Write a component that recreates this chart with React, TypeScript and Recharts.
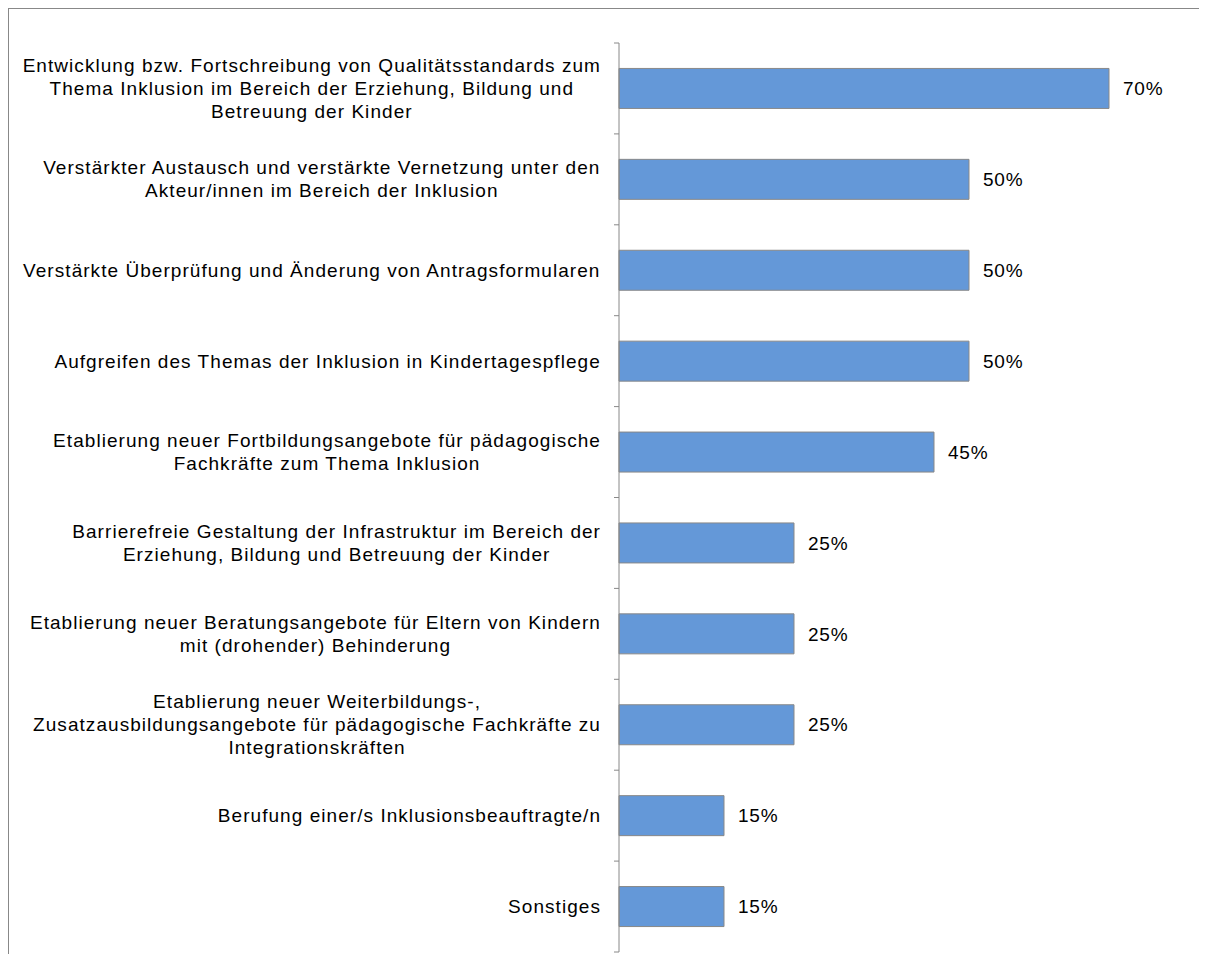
import React from 'react';
import { BarChart, Bar, XAxis, YAxis, LabelList } from 'recharts';

const categories = [
  'Entwicklung bzw. Fortschreibung von Qualitätsstandards zum\nThema Inklusion im Bereich der Erziehung, Bildung und\nBetreuung der Kinder',
  'Verstärkter Austausch und verstärkte Vernetzung unter den\nAkteur/innen im Bereich der Inklusion',
  'Verstärkte Überprüfung und Änderung von Antragsformularen',
  'Aufgreifen des Themas der Inklusion in Kindertagespflege',
  'Etablierung neuer Fortbildungsangebote für pädagogische\nFachkräfte zum Thema Inklusion',
  'Barrierefreie Gestaltung der Infrastruktur im Bereich der\nErziehung, Bildung und Betreuung der Kinder',
  'Etablierung neuer Beratungsangebote für Eltern von Kindern\nmit (drohender) Behinderung',
  'Etablierung neuer Weiterbildungs-,\nZusatzausbildungsangebote für pädagogische Fachkräfte zu\nIntegrationskräften',
  'Berufung einer/s Inklusionsbeauftragte/n',
  'Sonstiges',
];

const values = [70, 50, 50, 50, 45, 25, 25, 25, 15, 15];

const data = categories.map((category, i) => ({ category, value: values[i] }));

const FONT = "'Liberation Sans', Arial, sans-serif";
const FONT_SIZE = 19;
const SPACING = 1.05;
const LINE_H = 23;

const CHART_W = 1190;
const CHART_H = 945;
const MARGIN = { top: 34, right: 20, bottom: 2, left: 0 };
const BAND = (CHART_H - MARGIN.top - MARGIN.bottom) / categories.length;

let ctx: CanvasRenderingContext2D | null = null;
function textWidth(s: string) {
  if (!ctx) {
    ctx = document.createElement('canvas').getContext('2d');
  }
  if (!ctx) return s.length * FONT_SIZE * 0.5;
  ctx.font = `${FONT_SIZE}px ${FONT}`;
  return ctx.measureText(s).width + SPACING * s.length;
}

function CatTick(props: any) {
  const { x, y, payload, index } = props;
  const lines: string[] = String(payload.value).split('\n');
  const block = Math.max(...lines.map(textWidth));
  const cx = x - block / 2;
  const axisX = x + 18;
  return (
    <g>
      <line x1={axisX - 5} x2={axisX} y1={y - BAND / 2} y2={y - BAND / 2} stroke="#888" />
      {index === categories.length - 1 && (
        <line x1={axisX - 5} x2={axisX} y1={y + BAND / 2} y2={y + BAND / 2} stroke="#888" />
      )}
      <text
        textAnchor="middle"
        fontFamily={FONT}
        fontSize={FONT_SIZE}
        letterSpacing={SPACING}
        fill="#000"
      >
        {lines.map((l, i) => (
          <tspan key={i} x={cx} y={y + (i - (lines.length - 1) / 2) * LINE_H + 6.5}>
            {l}
          </tspan>
        ))}
      </text>
    </g>
  );
}

export default function App() {
  return (
    <div
      style={{
        borderTop: '1px solid #888',
        borderLeft: '1px solid #888',
        width: 1198,
        height: CHART_H,
        background: '#fff',
      }}
    >
      <BarChart
        width={CHART_W}
        height={CHART_H}
        data={data}
        layout="vertical"
        margin={MARGIN}
        barCategoryGap="28%"
      >
        <XAxis type="number" domain={[0, 80]} hide />
        <YAxis
          type="category"
          dataKey="category"
          width={610}
          interval={0}
          axisLine={{ stroke: '#888' }}
          tickLine={false}
          tickSize={0}
          tickMargin={18}
          tick={<CatTick />}
        />
        <Bar dataKey="value" fill="#6498D8" stroke="#888" strokeWidth={1} isAnimationActive={false}>
          <LabelList
            dataKey="value"
            position="right"
            offset={14}
            formatter={(v: any) => `${v}%`}
            fill="#000"
            fontFamily={FONT}
            fontSize={FONT_SIZE}
            letterSpacing={0.8}
          />
        </Bar>
      </BarChart>
    </div>
  );
}
